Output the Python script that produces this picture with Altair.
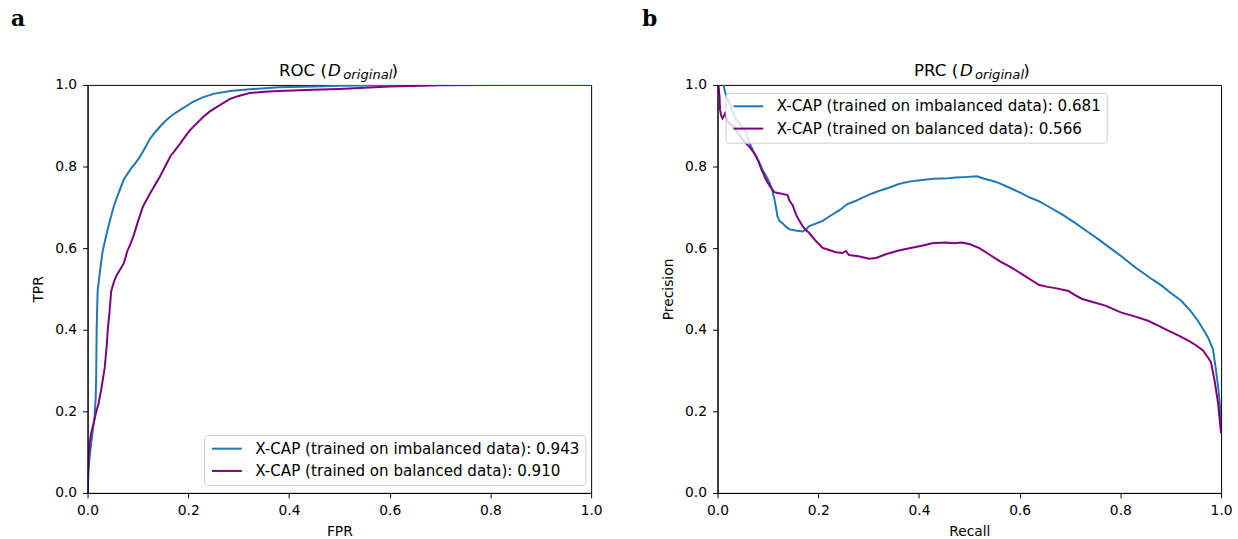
import altair as alt
import pandas as pd

# ---------------- data ----------------
roc_imb_fpr = [0, 0.002, 0.005, 0.0073, 0.011, 0.0138, 0.016, 0.017, 0.018, 0.019, 0.020, 0.024,
               0.030, 0.035, 0.040, 0.046, 0.052, 0.06, 0.072, 0.085, 0.095, 0.105, 0.115, 0.124,
               0.134, 0.144, 0.154, 0.164, 0.174, 0.184, 0.197, 0.21, 0.23, 0.25, 0.283, 0.328,
               0.38, 0.45, 0.5, 0.6, 0.7, 1.0]
roc_imb_tpr = [0, 0.06, 0.10, 0.122, 0.16, 0.185, 0.23, 0.276, 0.398, 0.45, 0.495, 0.537,
               0.593, 0.62, 0.646, 0.675, 0.702, 0.73, 0.768, 0.793, 0.808, 0.826, 0.848, 0.868,
               0.884, 0.898, 0.911, 0.922, 0.931, 0.939, 0.949, 0.959, 0.97, 0.978, 0.985, 0.99,
               0.994, 0.996, 0.998, 0.999, 1.0, 1.0]

roc_bal_fpr = [0, 0.001, 0.002, 0.004, 0.007, 0.012, 0.017, 0.022, 0.028, 0.034, 0.038, 0.04,
               0.044, 0.047, 0.053, 0.057, 0.065, 0.072, 0.079, 0.085, 0.091, 0.1, 0.11, 0.124,
               0.134, 0.144, 0.154, 0.164, 0.174, 0.184, 0.194, 0.204, 0.217, 0.23, 0.243, 0.257,
               0.27, 0.283, 0.3, 0.322, 0.35, 0.38, 0.447, 0.5, 0.55, 0.6, 0.7, 0.8, 1.0]
roc_bal_tpr = [0, 0.05, 0.088, 0.12, 0.146, 0.17, 0.198, 0.22, 0.26, 0.307, 0.36, 0.398,
               0.45, 0.495, 0.52, 0.532, 0.548, 0.563, 0.593, 0.61, 0.629, 0.665, 0.702, 0.734,
               0.755, 0.776, 0.8, 0.824, 0.84, 0.856, 0.874, 0.89, 0.906, 0.922, 0.935, 0.946,
               0.956, 0.966, 0.973, 0.98, 0.983, 0.985, 0.988, 0.99, 0.993, 0.996, 0.999, 1.0, 1.0]

prc_imb_rec = [0.012, 0.014, 0.018, 0.024, 0.03, 0.037, 0.047, 0.057, 0.063, 0.07, 0.077, 0.083,
               0.089, 0.096, 0.103, 0.108, 0.113, 0.116, 0.119, 0.123, 0.13, 0.136, 0.143, 0.155,
               0.169, 0.176, 0.182, 0.195, 0.208, 0.225, 0.242, 0.258, 0.275, 0.29, 0.307, 0.325,
               0.34, 0.36, 0.38, 0.406, 0.43, 0.459, 0.473, 0.49, 0.515, 0.53, 0.545, 0.558,
               0.58, 0.604, 0.62, 0.638, 0.657, 0.685, 0.71, 0.735, 0.756, 0.78, 0.802, 0.829,
               0.849, 0.865, 0.882, 0.9, 0.921, 0.94, 0.954, 0.965, 0.974, 0.984, 0.99, 0.995,
               0.998, 1.0]
prc_imb_pre = [1.0, 0.988, 0.97, 0.956, 0.935, 0.915, 0.9, 0.883, 0.86, 0.84, 0.824, 0.81,
               0.793, 0.778, 0.761, 0.745, 0.72, 0.7, 0.678, 0.667, 0.66, 0.652, 0.646, 0.643,
               0.641, 0.646, 0.654, 0.66, 0.666, 0.68, 0.693, 0.708, 0.716, 0.725, 0.734, 0.742,
               0.748, 0.757, 0.763, 0.767, 0.77, 0.771, 0.773, 0.774, 0.776, 0.77, 0.765, 0.76,
               0.748, 0.734, 0.724, 0.715, 0.702, 0.682, 0.662, 0.64, 0.622, 0.6, 0.58, 0.553,
               0.536, 0.522, 0.508, 0.49, 0.471, 0.445, 0.422, 0.4, 0.381, 0.352, 0.3, 0.251,
               0.21, 0.15]

prc_bal_rec = [0.002, 0.004, 0.005, 0.007, 0.01, 0.015, 0.02, 0.024, 0.03, 0.037, 0.044, 0.05,
               0.057, 0.063, 0.07, 0.077, 0.082, 0.087, 0.092, 0.096, 0.104, 0.113, 0.12, 0.129,
               0.139, 0.143, 0.149, 0.156, 0.162, 0.169, 0.175, 0.182, 0.195, 0.208, 0.22, 0.235,
               0.248, 0.255, 0.261, 0.28, 0.301, 0.315, 0.334, 0.36, 0.386, 0.406, 0.426, 0.453,
               0.47, 0.485, 0.5, 0.52, 0.539, 0.56, 0.584, 0.61, 0.638, 0.655, 0.671, 0.697,
               0.71, 0.723, 0.745, 0.77, 0.785, 0.802, 0.83, 0.855, 0.875, 0.895, 0.915, 0.935,
               0.95, 0.964, 0.975, 0.98, 0.987, 0.994, 1.0]
prc_bal_pre = [1.0, 0.97, 0.94, 0.925, 0.918, 0.93, 0.91, 0.905, 0.9, 0.888, 0.876, 0.866,
               0.856, 0.849, 0.838, 0.824, 0.81, 0.793, 0.78, 0.768, 0.752, 0.737, 0.735, 0.733,
               0.73, 0.716, 0.706, 0.682, 0.668, 0.654, 0.645, 0.637, 0.618, 0.601, 0.596, 0.59,
               0.588, 0.593, 0.583, 0.58, 0.574, 0.576, 0.585, 0.594, 0.601, 0.606, 0.612, 0.614,
               0.612, 0.614, 0.61, 0.6, 0.585, 0.568, 0.552, 0.532, 0.51, 0.505, 0.502, 0.495,
               0.485, 0.476, 0.468, 0.459, 0.451, 0.442, 0.432, 0.422, 0.41, 0.398, 0.386, 0.373,
               0.362, 0.349, 0.33, 0.32, 0.276, 0.22, 0.146]

roc_labels = ["X-CAP (trained on imbalanced data): 0.943",
              "X-CAP (trained on balanced data): 0.910"]
prc_labels = ["X-CAP (trained on imbalanced data): 0.681",
              "X-CAP (trained on balanced data): 0.566"]
tick_values = [0.0, 0.2, 0.4, 0.6, 0.8, 1.0]

BLUE = "#1f77b4"
PURPLE = "#800080"
FONT = "DejaVu Sans"
W, H = 506, 410


def frame(xs_a, ys_a, xs_b, ys_b, labels):
    rows = []
    for i, (x, y) in enumerate(zip(xs_a, ys_a)):
        rows.append({"x": x, "y": y, "model": labels[0], "idx": i})
    for i, (x, y) in enumerate(zip(xs_b, ys_b)):
        rows.append({"x": x, "y": y, "model": labels[1], "idx": i})
    return pd.DataFrame(rows)


def axis(title, label_pad, title_pad):
    return alt.Axis(values=tick_values, format=".1f", labelFlush=False, grid=False,
                    tickSize=5, tickWidth=1, tickColor="black", domainColor="black",
                    domainWidth=1, labelColor="black", labelFont=FONT, labelFontSize=13.9,
                    labelPadding=label_pad, title=title, titleFont=FONT, titleFontSize=13.9,
                    titleFontWeight="normal", titleColor="black", titlePadding=title_pad,
                    zindex=1)


def text_piece(txt, x, y, size=16.7, italic=False, font=FONT, weight="normal"):
    return alt.Chart(alt.Data(values=[{"k": 1}])).mark_text(
        text=txt, align="left", baseline="alphabetic", font=font, fontSize=size,
        fontStyle="italic" if italic else "normal", fontWeight=weight, color="black"
    ).encode(x=alt.value(x), y=alt.value(y))


def panel(df, labels, xtitle, ytitle, lx, ly, name, title_x, letter, letter_x):
    lines = alt.Chart(df).mark_line(strokeWidth=2, clip=True).encode(
        x=alt.X("x:Q", scale=alt.Scale(domain=[0, 1], nice=False), axis=axis(xtitle, 6, 7)),
        y=alt.Y("y:Q", scale=alt.Scale(domain=[0, 1], nice=False), axis=axis(ytitle, 6, 9)),
        color=alt.Color("model:N", scale=alt.Scale(domain=labels, range=[BLUE, PURPLE]),
                        legend=alt.Legend(title=None, orient="none", legendX=lx, legendY=ly,
                                          symbolType="M-2,0H2", symbolSize=225,
                                          symbolStrokeWidth=2, symbolOffset=9.5,
                                          labelFont=FONT, labelFontSize=15.2,
                                          labelColor="black", labelLimit=0, labelOffset=20,
                                          padding=5, rowPadding=5.4,
                                          fillColor="rgba(255,255,255,0.8)",
                                          strokeColor="#cccccc", cornerRadius=3)),
        order="idx:Q",
    )
    nx, dx, sx, cx = title_x
    pieces = [
        text_piece(name + " (", nx, -9),
        text_piece("D", dx, -9, italic=True),
        text_piece("original", sx, -6, size=13.2, italic=True),
        text_piece(")", cx, -9),
        text_piece(letter, letter_x, -59, size=22, font="DejaVu Serif", weight="bold"),
    ]
    return alt.layer(lines, *pieces).properties(width=W, height=H)


roc = panel(frame(roc_imb_fpr, roc_imb_tpr, roc_bal_fpr, roc_bal_tpr, roc_labels),
            roc_labels, "FPR", "TPR", 117, 352, "ROC", (192.3, 241.5, 257, 305.5), "a", -77)
prc = panel(frame(prc_imb_rec, prc_imb_pre, prc_bal_rec, prc_bal_pre, prc_labels),
            prc_labels, "Recall", "Precision", 8, 8, "PRC", (197.5, 243.7, 258.7, 307.2), "b", -76)

chart = alt.hconcat(roc, prc, spacing=38).resolve_scale(
    x="independent", y="independent", color="independent"
).properties(
    padding={"left": 10, "top": 6, "right": 5, "bottom": 5},
    background="white",
).configure_view(stroke="black", strokeWidth=1)

chart.save("out.html", embed_options={"renderer": "svg", "actions": False})
